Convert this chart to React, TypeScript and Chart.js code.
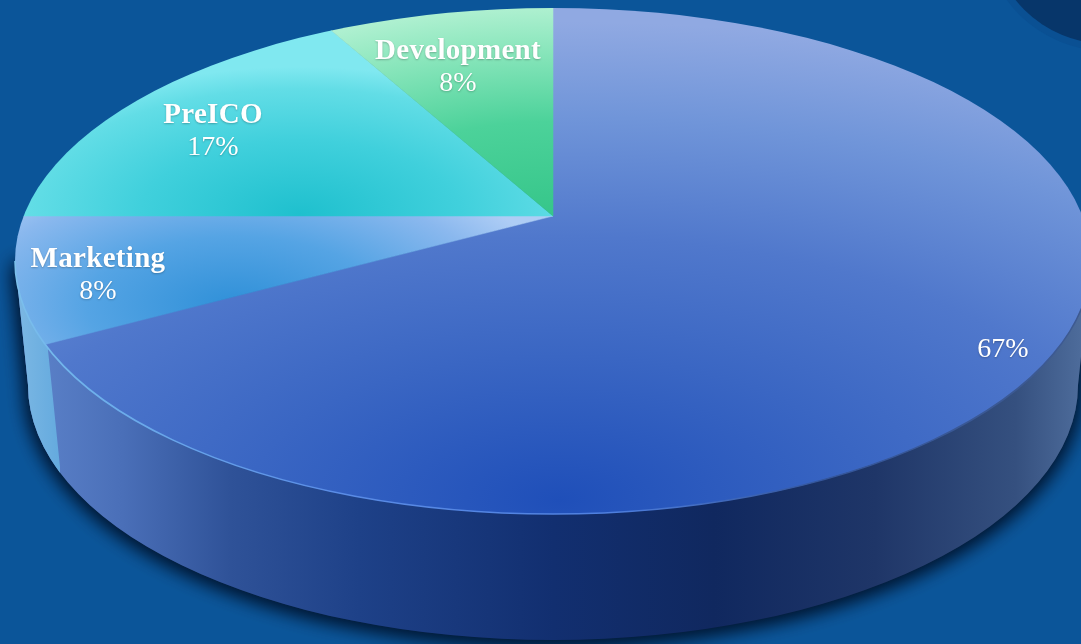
import React, { useEffect, useRef } from "react";
import { Chart, registerables } from "chart.js";

Chart.register(...registerables);

const categories = ["", "Marketing", "PreICO", "Development"];
const shares = [67, 8, 17, 8];

const W = 1081;
const H = 644;
const BG = "#0b5599";
const APEX = { x: 553, y: 216 };
const TOP = { x: 553, y: 261, rx: 538, ry: 253 };
const BOTTOM = { x: 553, y: 385, rx: 525, ry: 255 };
const SCALE_R = 800;
const TILT = 0.46;

// dark spot of each slice (device px), gradient x radius, colour stops
const shading = [
  { x: 560, y: 500, rx: 1040, stops: [[0, "#1f4fb9"], [0.3, "#3a66c3"], [0.55, "#5078cc"], [0.8, "#7095d9"], [1, "#90a9e2"]] },
  { x: 235, y: 305, rx: 330, stops: [[0, "#2f90d8"], [0.45, "#55a4e4"], [0.8, "#8ab8ee"], [1, "#aecdf5"]] },
  { x: 300, y: 214, rx: 320, stops: [[0, "#1fc0ce"], [0.5, "#40d0dc"], [0.85, "#62dde6"], [1, "#80e8f0"]] },
  { x: 548, y: 215, rx: 450, stops: [[0, "#36c68a"], [0.45, "#4cd29a"], [0.8, "#8ae6bc"], [1, "#aef0d0"]] },
];

function fitted(chart: any) {
  const a = chart.chartArea;
  const cx = (a.left + a.right) / 2;
  const cy = (a.top + a.bottom) / 2;
  const r = Math.min(a.right - a.left, a.bottom - a.top) / 2;
  return { cx, cy, r, sx: SCALE_R / r, sy: (SCALE_R * TILT) / r };
}

function sliceFill(context: any) {
  const chart = context.chart;
  if (!chart.chartArea) return "#4a72ca";
  const s = shading[context.dataIndex];
  const f = fitted(chart);
  const gx = f.cx + (s.x - APEX.x) / f.sx;
  const gy = f.cy + (s.y - APEX.y) / f.sy;
  const g = chart.ctx.createRadialGradient(gx, gy, 0, gx, gy, s.rx / f.sx);
  s.stops.forEach((st: any) => g.addColorStop(st[0], st[1]));
  return g;
}

function hullPath(ctx: CanvasRenderingContext2D) {
  ctx.beginPath();
  ctx.moveTo(TOP.x - TOP.rx, TOP.y);
  ctx.lineTo(BOTTOM.x - BOTTOM.rx, BOTTOM.y);
  ctx.ellipse(BOTTOM.x, BOTTOM.y, BOTTOM.rx, BOTTOM.ry, 0, Math.PI, 0, true);
  ctx.lineTo(TOP.x + TOP.rx, TOP.y);
  ctx.closePath();
}

const pie3d = {
  id: "pie3d",
  beforeDatasetsDraw(chart: any) {
    const ctx: CanvasRenderingContext2D = chart.ctx;
    ctx.save();
    ctx.fillStyle = BG;
    ctx.fillRect(0, 0, W, H);
    ctx.fillStyle = "#0a5093";
    ctx.beginPath();
    ctx.arc(1107, -73, 124, 0, Math.PI * 2);
    ctx.fill();
    ctx.fillStyle = "#07366a";
    ctx.beginPath();
    ctx.arc(1107, -73, 117, 0, Math.PI * 2);
    ctx.fill();

    // side wall
    const wall = ctx.createLinearGradient(15, 0, 1091, 0);
    [[0, "#5f85cc"], [0.1, "#4a6fb8"], [0.2, "#2f5298"], [0.32, "#1e4188"], [0.5, "#122f70"], [0.65, "#10285f"], [0.8, "#1f3668"], [0.93, "#35507f"], [1, "#51709f"]].forEach((p: any) =>
      wall.addColorStop(p[0], p[1])
    );
    ctx.save();
    ctx.shadowColor = "rgba(0,22,50,1)";
    ctx.shadowBlur = 20;
    ctx.shadowOffsetY = 3;
    ctx.fillStyle = wall;
    hullPath(ctx);
    ctx.fill();
    ctx.fill();
    ctx.restore();

    ctx.save();
    ctx.beginPath();
    ctx.moveTo(0, 250);
    ctx.lineTo(48, 250);
    ctx.lineTo(48, 350);
    ctx.lineTo(60, 467);
    ctx.lineTo(60, 520);
    ctx.lineTo(0, 520);
    ctx.closePath();
    ctx.clip();
    const side = ctx.createLinearGradient(15, 0, 60, 0);
    side.addColorStop(0, "#7db8e4");
    side.addColorStop(1, "#64aade");
    ctx.fillStyle = side;
    hullPath(ctx);
    ctx.fill();
    ctx.restore();

    // the pie top: chart.js arcs, flattened and clipped to the top ellipse
    const f = fitted(chart);
    ctx.save();
    ctx.beginPath();
    ctx.ellipse(TOP.x, TOP.y, TOP.rx, TOP.ry, 0, 0, Math.PI * 2);
    ctx.clip();
    ctx.translate(APEX.x, APEX.y);
    ctx.scale(f.sx, f.sy);
    ctx.translate(-f.cx, -f.cy);
  },
  afterDatasetsDraw(chart: any) {
    const ctx: CanvasRenderingContext2D = chart.ctx;
    ctx.restore();

    // bright front rim
    const rim = ctx.createLinearGradient(15, 0, 1091, 0);
    rim.addColorStop(0, "#7cc0ec");
    rim.addColorStop(0.05, "#70b4ec");
    rim.addColorStop(0.3, "#5a8ce6");
    rim.addColorStop(0.55, "#4f80e0");
    rim.addColorStop(0.75, "#34569c");
    rim.addColorStop(1, "#3e5a90");
    ctx.strokeStyle = rim;
    ctx.lineWidth = 1.6;
    ctx.beginPath();
    ctx.ellipse(TOP.x, TOP.y, TOP.rx, TOP.ry, 0, Math.PI, 0, true);
    ctx.stroke();

    // labels
    const anchors = [
      { x: 1003, y: 357 },
      { x: 98, y: 267 },
      { x: 213, y: 123 },
      { x: 458, y: 59 },
    ];
    ctx.textAlign = "center";
    ctx.fillStyle = "#ffffff";
    ctx.shadowColor = "rgba(0,0,0,0.25)";
    ctx.shadowBlur = 2;
    ctx.shadowOffsetY = 1;
    categories.forEach((name, i) => {
      const a = anchors[i];
      if (name) {
        (ctx as any).letterSpacing = "0.3px";
        ctx.font = 'bold 29px "Liberation Serif"';
        ctx.fillText(name, a.x, a.y);
        (ctx as any).letterSpacing = "0px";
        ctx.font = '28px "Liberation Serif"';
        ctx.fillText(shares[i] + "%", a.x, a.y + 32);
      } else {
        ctx.font = '28px "Liberation Serif"';
        ctx.fillText(shares[i] + "%", a.x, a.y);
      }
    });
    ctx.restore();
  },
};

export default function App() {
  const ref = useRef<HTMLCanvasElement>(null);
  useEffect(() => {
    document.body.style.margin = "0";
    document.body.style.background = BG;
    const chart = new Chart(ref.current as HTMLCanvasElement, {
      type: "pie",
      data: {
        labels: categories,
        datasets: [
          {
            data: shares,
            backgroundColor: sliceFill as any,
            borderColor: sliceFill as any,
            borderWidth: 0.3,
            clip: false as any,
          },
        ],
      },
      options: {
        responsive: false,
        animation: false,
        devicePixelRatio: 1,
        layout: { padding: 0 },
        rotation: 0,
        plugins: { legend: { display: false }, tooltip: { enabled: false } },
      },
      plugins: [pie3d as any],
    });
    return () => chart.destroy();
  }, []);
  return <canvas ref={ref} width={W} height={H} style={{ display: "block" }} />;
}
